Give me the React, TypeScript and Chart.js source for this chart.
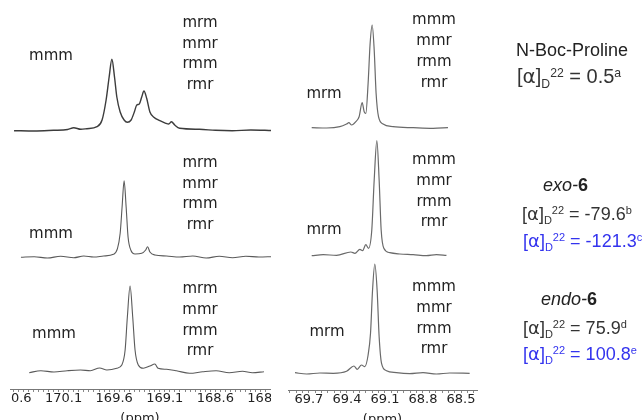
import React, { useEffect, useRef } from 'react';
import { Chart, registerables } from 'chart.js';

Chart.register(...registerables);

// ---------- Left column: C=O region (ppm) ----------
const LEFT_TICKS = [170.6, 170.1, 169.6, 169.1, 168.6, 168.1];

// N-Boc-Proline
const LT_PPM = [170.59, 170.39, 170.2, 170.06, 170.0, 169.93, 169.87, 169.77, 169.72, 169.68, 169.65, 169.623, 169.597, 169.574, 169.541, 169.502, 169.47, 169.433, 169.401, 169.377, 169.352, 169.328, 169.306, 169.279, 169.247, 169.208, 169.149, 169.09, 169.061, 169.034, 169.002, 168.953, 168.757, 168.6, 168.433, 168.25, 168.041];
const LT_INT = [-0.7, -1, -0.3, 0.5, 2.3, 0.7, 1.3, 3.3, 10, 30, 53, 70.7, 53, 33, 18, 10, 7.7, 10, 18, 25, 26, 33, 39, 31.7, 18, 12.7, 9.3, 6.7, 6, 8.3, 5, 1.7, 0.7, -0.3, -0.7, 0, -0.5];

// exo-6
const LM_PPM = [170.522, 170.391, 170.26, 170.129, 169.999, 169.901, 169.803, 169.705, 169.607, 169.568, 169.541, 169.522, 169.502, 169.482, 169.463, 169.436, 169.394, 169.328, 169.289, 169.27, 169.247, 169.198, 169.083, 168.953, 168.823, 168.691, 168.561, 168.43, 168.299, 168.169, 168.038];
const LM_INT = [-0.3, 0.3, -1, 0.7, -0.7, 1, 0, 1, 2.7, 8.3, 23.7, 50, 76.3, 50, 20, 7, 3, 3.7, 7, 10.3, 5, 2, 1, 0, 1, -1, 0.7, -0.7, 0.7, 0, 0.3];

// endo-6
const LB_PPM = [170.44, 170.325, 170.195, 170.064, 169.933, 169.835, 169.744, 169.672, 169.574, 169.525, 169.492, 169.47, 169.443, 169.417, 169.394, 169.362, 169.313, 169.247, 169.198, 169.166, 169.083, 168.985, 168.855, 168.725, 168.593, 168.463, 168.332, 168.234, 168.12];
const LB_INT = [-0.7, 1.3, 0, 1.3, 2, 1.3, 4, 2, 3.7, 7, 22, 55, 86, 55, 22, 7, 3.7, 6, 8, 3.7, 2.7, 1.3, -1.3, 0.3, 1.3, -0.7, 0.7, -0.7, 0.3];

// ---------- Right column: C-alpha region (ppm) ----------
const RIGHT_TICKS = [69.7, 69.4, 69.1, 68.8, 68.5];

const RT_PPM = [69.678, 69.56, 69.456, 69.403, 69.385, 69.363, 69.33, 69.304, 69.28, 69.264, 69.251, 69.233, 69.217, 69.201, 69.185, 69.17, 69.151, 69.115, 69.036, 68.878, 68.721, 68.603];
const RT_INT = [0.3, 0, 1.3, 4, 5.3, 3, 6.3, 11.3, 25.3, 16.3, 14.7, 44.7, 84.7, 103, 78, 34.7, 11.3, 4, 1.3, 0.3, -0.3, 0.3];

const RM_PPM = [69.678, 69.587, 69.482, 69.369, 69.337, 69.298, 69.277, 69.251, 69.23, 69.204, 69.185, 69.164, 69.146, 69.13, 69.109, 69.062, 68.983, 68.878, 68.773, 68.694, 68.615];
const RM_INT = [-0.7, 0.3, -0.3, 3, 1.7, 5.7, 4.3, 10.3, 6.7, 25, 75, 114.3, 75, 25, 6.7, 2.3, 1, 0.3, -0.7, 0.3, -0.3];

const RB_PPM = [69.81, 69.718, 69.613, 69.508, 69.403, 69.345, 69.319, 69.285, 69.259, 69.233, 69.214, 69.198, 69.18, 69.162, 69.146, 69.127, 69.088, 69.009, 68.904, 68.8, 68.694, 68.589, 68.432];
const RB_INT = [0.3, -1, 0, -0.3, 1.7, 7, 3.7, 8, 6.3, 18, 39.7, 83, 109, 83, 36.3, 9.7, 2.3, 0.3, -0.7, 0.3, -1, 0, -0.3];

// ---------- Annotations ----------
const COMPOUNDS = ['N-Boc-Proline', 'exo-6', 'endo-6'];
const ROTATION_VALUES = ['0.5', '-79.6', '-121.3', '75.9', '100.8'];
const ROTATION_NOTES = ['a', 'b', 'c', 'd', 'e'];

const TICK_FONT = { family: '"DejaVu Sans", Verdana, sans-serif', size: 13 };

type Spec = { ppm: number[]; int: number[]; color: string; width: number; min: number; max: number; weight: number };

type ColProps = {
  spectra: Spec[];
  xMin: number;
  xMax: number;
  labels: number[];
  minorFrom: number;
  minorTo: number;
  width: number;
  height: number;
  axisH: number;
};

function SpectrumColumn(p: ColProps) {
  const ref = useRef<HTMLCanvasElement>(null);
  useEffect(() => {
    if (!ref.current) return;
    const scales: any = {
      x: {
        type: 'linear',
        reverse: true,
        min: p.xMin,
        max: p.xMax,
        afterBuildTicks: (s: any) => {
          const arr: any[] = [];
          for (let k = 0; ; k++) {
            const v = Math.round((p.minorFrom - k * 0.05) * 1000) / 1000;
            if (v < p.minorTo - 1e-9) break;
            arr.push({ value: v });
          }
          s.ticks = arr;
        },
        afterFit: (s: any) => {
          s.height = p.axisH;
        },
        ticks: {
          autoSkip: false,
          maxRotation: 0,
          minRotation: 0,
          padding: -1,
          color: '#222',
          font: TICK_FONT,
          callback: (v: any) => (p.labels.some((t) => Math.abs(t - Number(v)) < 1e-6) ? Number(v).toFixed(1) : ''),
        },
        grid: { display: true, drawOnChartArea: false, drawTicks: true, tickLength: 3, color: '#888', lineWidth: 1 },
        border: { display: true, color: '#777', width: 1 },
        title: { display: true, text: '(ppm)', color: '#222', font: TICK_FONT, padding: { top: 0, bottom: 0 } },
      },
    };
    // stacked y axes: the first declared is placed at the bottom, so declare bottom-up
    for (let i = p.spectra.length - 1; i >= 0; i--) {
      const sp = p.spectra[i];
      scales['y' + i] = {
        type: 'linear',
        display: false,
        position: 'left',
        stack: 'spectra',
        stackWeight: sp.weight,
        min: sp.min,
        max: sp.max,
      };
    }
    const chart = new Chart(ref.current, {
      type: 'line',
      data: {
        datasets: p.spectra.map((sp, i) => ({
          data: sp.ppm.map((x, j) => ({ x, y: sp.int[j] })),
          yAxisID: 'y' + i,
          borderColor: sp.color,
          borderWidth: sp.width,
          pointRadius: 0,
          fill: false,
          cubicInterpolationMode: 'monotone' as const,
          clip: 6,
        })),
      },
      options: {
        animation: false,
        responsive: false,
        maintainAspectRatio: false,
        layout: { padding: { left: 40, right: 40, top: 0, bottom: 0 } },
        plugins: { legend: { display: false }, tooltip: { enabled: false } },
        scales,
      },
    });
    return () => chart.destroy();
  }, []);
  return <canvas ref={ref} width={p.width} height={p.height} style={{ display: 'block', width: p.width, height: p.height }} />;
}

const LABEL_FONT = '"DejaVu Sans", Verdana, sans-serif';
const TEXT_FONT = '"Liberation Sans", Arial, sans-serif';

function Tac({ text, cx, cy }: { text: string; cx: number; cy: number }) {
  return (
    <div
      style={{
        position: 'absolute',
        left: cx,
        top: cy - 6.8,
        transform: 'translateX(-50%)',
        fontFamily: LABEL_FONT,
        fontSize: 15,
        lineHeight: '15px',
        color: '#222',
        whiteSpace: 'nowrap',
      }}
    >
      {text}
    </div>
  );
}

function Rot({ value, note, left, cy, color, size }: { value: string; note: string; left: number; cy: number; color: string; size: number }) {
  const k = size / 18;
  const small = 11 * k;
  return (
    <div
      style={{
        position: 'absolute',
        left,
        top: cy - 10.5 * k,
        fontFamily: TEXT_FONT,
        fontSize: size,
        lineHeight: 22 * k + 'px',
        color,
        whiteSpace: 'nowrap',
      }}
    >
      [<span style={{ fontFamily: LABEL_FONT }}>α</span>]
      <span style={{ fontSize: small, position: 'relative', top: 4 * k }}>D</span>
      <span style={{ fontSize: small, position: 'relative', top: -6 * k }}>22</span>
      {' = ' + value}
      <span style={{ fontSize: small, position: 'relative', top: -6 * k }}>{note}</span>
    </div>
  );
}

function Compound({ name, left, cy }: { name: string; left: number; cy: number }) {
  const m = name.match(/^(.*-)(\d+)$/);
  return (
    <div
      style={{
        position: 'absolute',
        left,
        top: cy - 10.5,
        fontFamily: TEXT_FONT,
        fontSize: 18,
        lineHeight: '22px',
        color: '#222',
        whiteSpace: 'nowrap',
      }}
    >
      {m ? (
        <>
          <i>{m[1]}</i>
          <b>{m[2]}</b>
        </>
      ) : (
        name
      )}
    </div>
  );
}

export default function App() {
  const leftSpectra: Spec[] = [
    { ppm: LT_PPM, int: LT_INT, color: '#3c3c3c', width: 1.4, min: -5, max: 130, weight: 135 },
    { ppm: LM_PPM, int: LM_INT, color: '#5a5a5a', width: 1.1, min: -5, max: 122, weight: 127 },
    { ppm: LB_PPM, int: LB_INT, color: '#5a5a5a', width: 1.1, min: -17, max: 110, weight: 127 },
  ];
  const rightSpectra: Spec[] = [
    { ppm: RT_PPM, int: RT_INT, color: '#6a6a6a', width: 1.2, min: -7, max: 128, weight: 135 },
    { ppm: RM_PPM, int: RM_INT, color: '#6a6a6a', width: 1.2, min: -7, max: 120, weight: 127 },
    { ppm: RB_PPM, int: RB_INT, color: '#6a6a6a', width: 1.2, min: -17, max: 111, weight: 128 },
  ];
  const tacLeft = ['mrm', 'mmr', 'rmm', 'rmr'];
  const tacRight = ['mmm', 'mmr', 'rmm', 'rmr'];
  return (
    <div style={{ position: 'absolute', left: 0, top: 0, width: 642, height: 420, overflow: 'hidden', background: '#fff' }}>
      <div style={{ position: 'absolute', left: 10, top: 0, width: 261, height: 420, overflow: 'hidden' }}>
        <div style={{ position: 'absolute', left: -40, top: 0 }}>
          <SpectrumColumn spectra={leftSpectra} xMin={168.06} xMax={170.63} labels={LEFT_TICKS} minorFrom={170.6} minorTo={168.1} width={340} height={426} axisH={37} />
        </div>
      </div>
      <div style={{ position: 'absolute', left: 248, top: 0 }}>
        <SpectrumColumn spectra={rightSpectra} xMin={68.374} xMax={69.865} labels={RIGHT_TICKS} minorFrom={69.85} minorTo={68.4} width={269} height={427} axisH={37} />
      </div>

      {/* left column tacticity labels */}
      <Tac text="mmm" cx={51} cy={55} />
      {tacLeft.map((t, i) => <Tac key={'a' + t} text={t} cx={200} cy={22 + i * 20.5} />)}
      <Tac text="mmm" cx={51} cy={233} />
      {tacLeft.map((t, i) => <Tac key={'b' + t} text={t} cx={200} cy={162 + i * 20.5} />)}
      <Tac text="mmm" cx={54} cy={333} />
      {tacLeft.map((t, i) => <Tac key={'c' + t} text={t} cx={200} cy={288 + i * 20.7} />)}

      {/* right column tacticity labels */}
      <Tac text="mrm" cx={324} cy={93} />
      {tacRight.map((t, i) => <Tac key={'d' + t} text={t} cx={434} cy={19 + i * 21} />)}
      <Tac text="mrm" cx={324} cy={229} />
      {tacRight.map((t, i) => <Tac key={'e' + t} text={t} cx={434} cy={159 + i * 20.7} />)}
      <Tac text="mrm" cx={327} cy={331} />
      {tacRight.map((t, i) => <Tac key={'f' + t} text={t} cx={434} cy={286 + i * 20.7} />)}

      {/* compounds and optical rotations */}
      <Compound name={COMPOUNDS[0]} left={516} cy={49} />
      <Rot value={ROTATION_VALUES[0]} note={ROTATION_NOTES[0]} left={517} cy={76} color="#333" size={20} />
      <Compound name={COMPOUNDS[1]} left={543} cy={184} />
      <Rot value={ROTATION_VALUES[1]} note={ROTATION_NOTES[1]} left={522} cy={213} color="#333" size={18} />
      <Rot value={ROTATION_VALUES[2]} note={ROTATION_NOTES[2]} left={523} cy={240} color="#3333ee" size={18} />
      <Compound name={COMPOUNDS[2]} left={541} cy={298} />
      <Rot value={ROTATION_VALUES[3]} note={ROTATION_NOTES[3]} left={523} cy={327} color="#333" size={18} />
      <Rot value={ROTATION_VALUES[4]} note={ROTATION_NOTES[4]} left={523} cy={353} color="#3333ee" size={18} />
    </div>
  );
}
